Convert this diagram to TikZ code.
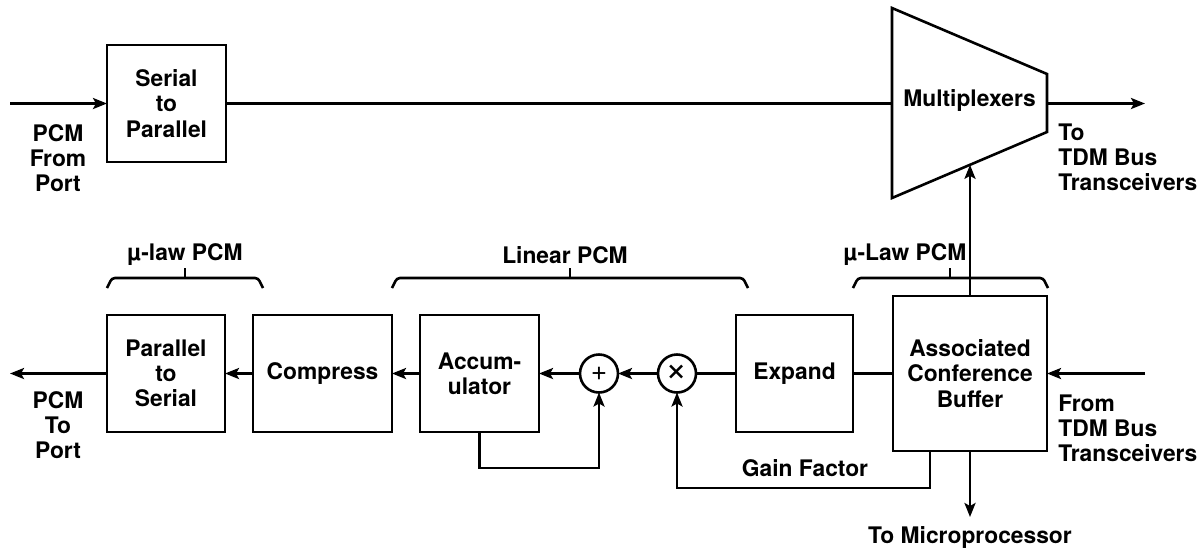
\documentclass[tikz,border=0pt]{standalone}
\usepackage{fontspec}
\setmainfont{TeX Gyre Heros}
\usetikzlibrary{arrows.meta, positioning, calc}

\begin{document}
\begin{tikzpicture}[
    x=0.5pt, y=-0.5pt,
    every node/.style={font=\fontsize{11.4}{12.6}\selectfont\bfseries},
    block/.style={draw, line width=1.3pt, outer sep=0pt, minimum width=59.5pt, minimum height=58.5pt, align=center, inner sep=1pt},
    junction/.style={draw, circle, line width=1.3pt, outer sep=0pt, minimum size=19pt, inner sep=0pt, font=\fontsize{14}{14}\selectfont\mdseries},
    lbl/.style={align=left, inner sep=0pt},
    bracket/.style={line width=1.3pt, rounded corners=1.5pt},
    line/.style={line width=1.3pt},
    arrow/.style={-{Stealth[length=7pt, width=5.5pt, inset=1.5pt]}, line width=1.3pt}
]
\useasboundingbox (0,0) rectangle (1204,548);

% Top path
\node[block] (s2p) at (166.5,103.5) {Serial\\to\\Parallel};
\coordinate (mtl) at (892,8);
\coordinate (mbl) at (892,198);
\coordinate (mtr) at (1047,74);
\coordinate (mbr) at (1047,132);
\draw[line] (mtl) -- (mtr) -- (mbr) -- (mbl) -- cycle;
\node (mux) at (969.5,100) {Multiplexers};

\coordinate (pcmin) at (10,103.5);
\coordinate (tdmout) at (1145,103.5);
\draw[arrow] (pcmin) -- (s2p.west);
\draw[line] (s2p.east) -- (s2p.east -| mtl);
\draw[arrow] (s2p.east -| mtr) -- (tdmout);

\node[lbl, align=center] (pcmfrom) at (58,158) {PCM\\From\\Port};
\node[lbl, anchor=west] (totdm) at (1058,157) {To\\TDM Bus\\Transceivers};

% Bottom path
\node[block, minimum width=59pt] (p2s) at (166,373.5) {Parallel\\to\\Serial};
\node[block, minimum width=69.5pt, right=14pt of p2s] (compress) {Compress};
\node[block, right=14pt of compress] (accum) {Accum-\\ulator};
\node[junction, right=20.5pt of accum] (sum) {+};
\node[junction, right=20pt of sum, font=\fontsize{19}{19}\selectfont\mdseries] (mult) {×};
\node[block, minimum width=58.5pt, right=20pt of mult] (expand) {Expand};
\node[block, minimum width=77pt, minimum height=77.5pt, right=20pt of expand] (buffer) {Associated\\Conference\\Buffer};

\draw[line] (buffer.west) -- (expand.east);
\draw[line] (expand.west) -- (mult.east);
\draw[arrow] (mult.west) -- (sum.east);
\draw[arrow] (sum.west) -- (accum.east);
\draw[arrow] (accum.west) -- (compress.east);
\draw[arrow] (compress.west) -- (p2s.east);

\coordinate (pcmout) at (10,373.5);
\coordinate (tdmin) at (1145,373.5);
\draw[arrow] (p2s.west) -- (pcmout);
\draw[arrow] (tdmin) -- (buffer.east);
\node[lbl, align=center] (pcmto) at (58,425) {PCM\\To\\Port};
\node[lbl, anchor=west] (fromtdm) at (1058,428) {From\\TDM Bus\\Transceivers};

% Feedback and gain
\draw[arrow] (accum.south) -- ++(0,36) -| (sum.south);
\draw[arrow] ([xshift=-20pt]buffer.south) -- ++(0,37) -| (mult.south);
\node (gain) at (805,468) {Gain Factor};

% Buffer outputs
\coordinate (msel) at ($(mbl)!0.503!(mbr)$);
\draw[arrow] (buffer.north) -- (buffer.north |- msel);
\coordinate (micro) at ($(buffer.south)+(0,66)$);
\draw[arrow] (buffer.south) -- (micro);
\node (tomicro) at (970,537) {To Microprocessor};

% Brackets
\draw[bracket] (107,288) -- (112,278) -- (258,278) -- (263,288);
\draw[bracket] (185,278) -- (185,268);
\node (ulawl) at (185,255) {µ-law PCM};
\draw[bracket] (392,288) -- (397,278) -- (743,278) -- (748,288);
\draw[bracket] (570,278) -- (570,268);
\node (lin) at (565,255) {Linear PCM};
\draw[bracket] (853,288) -- (858,278) -- (1043,278) -- (1048,288);
\draw[bracket] (950,278) -- (950,268);
\node (ulawr) at (905,255) {µ-Law PCM};

\end{tikzpicture}
\end{document}
